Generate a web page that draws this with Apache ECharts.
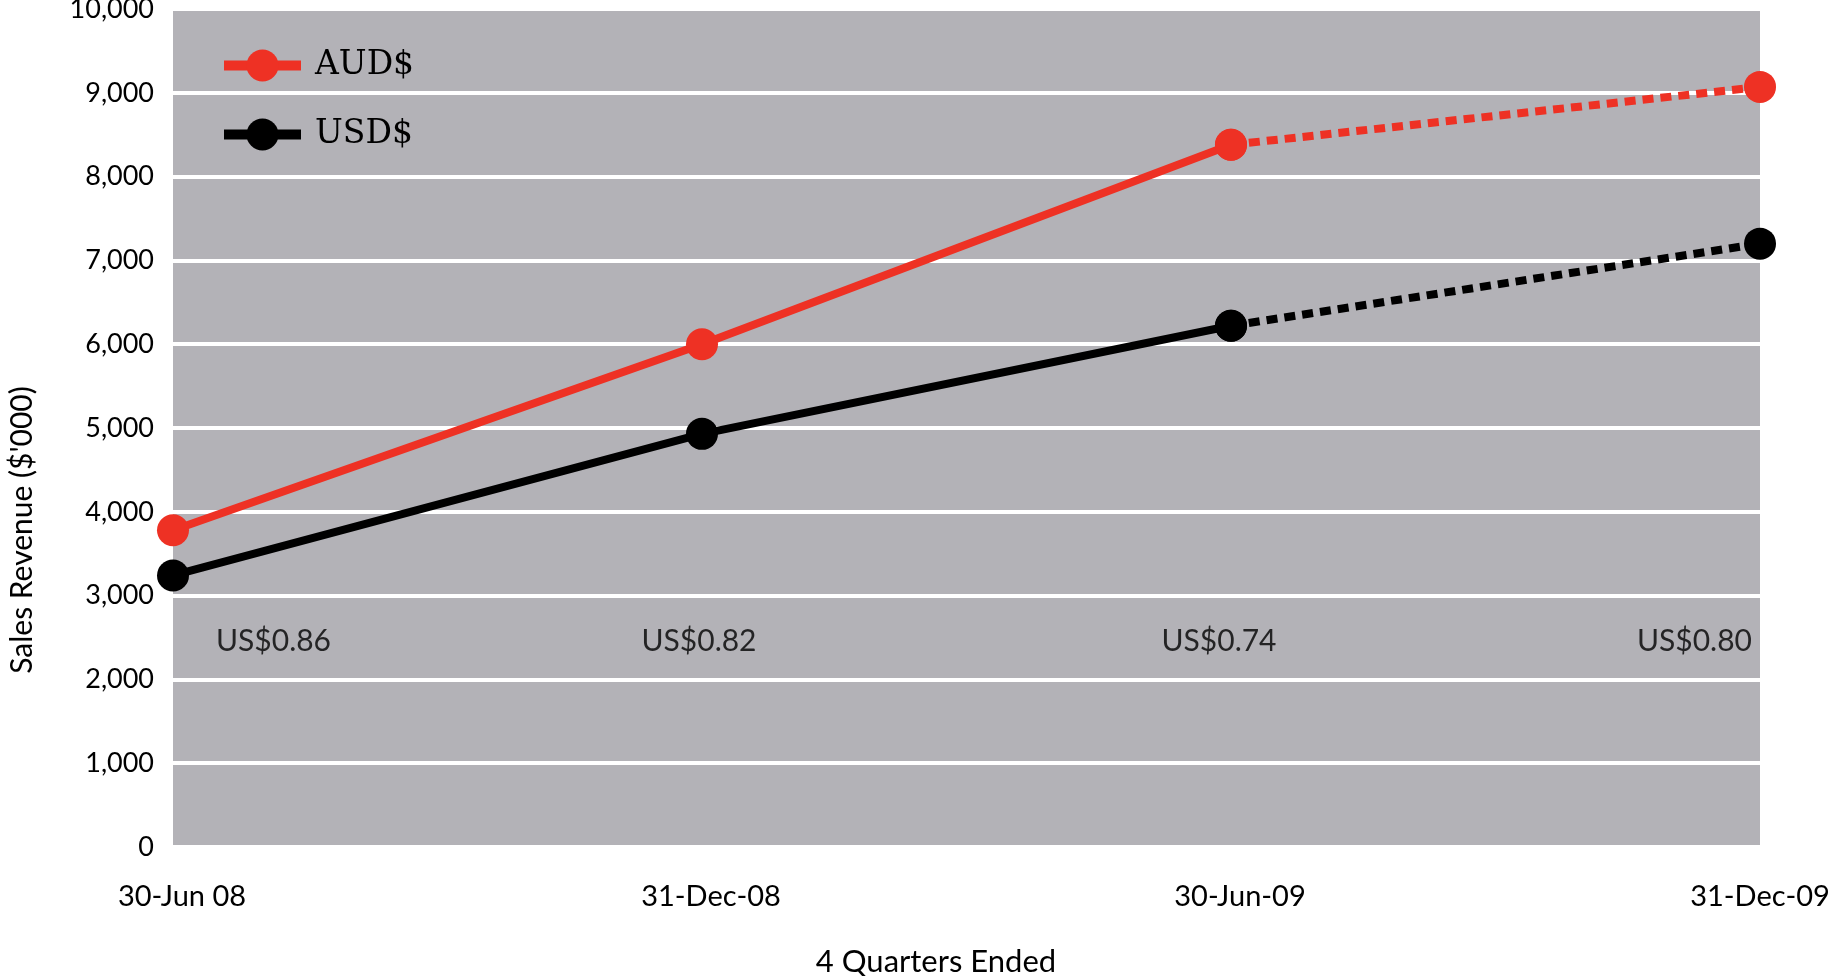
<!DOCTYPE html>
<html>
<head>
<meta charset="utf-8">
<script src="https://cdn.jsdelivr.net/npm/echarts@6/dist/echarts.min.js"></script>
<style>
  html, body { margin: 0; padding: 0; background: #ffffff; }
  #chart { width: 1830px; height: 976px; }
</style>
</head>
<body>
<div id="chart"></div>
<script>
// Rolling four-quarter sales revenue, in thousands of dollars
const periods = ['30-Jun 08', '31-Dec-08', '30-Jun-09', '31-Dec-09'];
const audRevenue = [3780, 6000, 8380, 9070];
const usdRevenue = [3240, 4930, 6220, 7200];
// Exchange rate (US$ per A$) noted under each period
const fxRates = ['US$0.86', 'US$0.82', 'US$0.74', 'US$0.80'];
const fxLabelLevel = 2460;
// The last period is a projection, drawn dashed
const projectedFrom = 2;

const RED = '#ee3124';
const BLACK = '#000000';
const LABEL_FONT = 'Lato, "Open Sans", sans-serif';

function actualPart(values) {
  return values.map((v, i) => (i <= projectedFrom ? v : null));
}
function projectedPart(values) {
  return values.map((v, i) => (i >= projectedFrom ? v : null));
}

function lineSeries(name, color, data, dashed) {
  return {
    name: name,
    type: 'line',
    data: data,
    symbol: 'circle',
    symbolSize: 32,
    showAllSymbol: true,
    connectNulls: false,
    z: dashed ? 3 : 4,
    itemStyle: { color: color },
    lineStyle: { color: color, width: 8, type: dashed ? [11, 7] : 'solid', cap: 'butt' },
    emphasis: { disabled: true },
    animation: false
  };
}

const fxAligns = ['left', 'center', 'center', 'right'];
const fxOffsets = [[43, 0], [-3, 0], [-12, 0], [-8, 0]];

const chart = echarts.init(document.getElementById('chart'));
const grid = { left: 173, right: 70, top: 9, bottom: 129 };

chart.setOption({
  backgroundColor: '#ffffff',
  animation: false,
  title: {
    text: '4 Quarters Ended',
    left: 931,
    top: 941,
    textAlign: 'center',
    textStyle: { fontFamily: LABEL_FONT, fontSize: 31, fontWeight: 'normal', color: '#000' }
  },
  legend: {
    orient: 'vertical',
    left: 214,
    top: 44,
    itemWidth: 77,
    itemHeight: 40,
    itemGap: 36,
    data: ['AUD$', 'USD$'],
    lineStyle: { width: 10 },
    textStyle: {
      fontFamily: '"DejaVu Serif", serif',
      fontSize: 33,
      color: '#000',
      padding: [0, 0, 0, 9]
    },
    selectedMode: false
  },
  graphic: [{
    type: 'text',
    x: 22,
    y: 530,
    rotation: Math.PI / 2,
    silent: true,
    style: {
      text: "Sales Revenue ($'000)",
      font: '30px ' + LABEL_FONT,
      fill: '#000',
      align: 'center',
      verticalAlign: 'middle'
    }
  }],
  grid: {
    left: grid.left,
    right: grid.right,
    top: grid.top,
    bottom: grid.bottom,
    containLabel: false,
    outerBoundsMode: 'none',
    show: true,
    backgroundColor: '#b3b2b7',
    borderWidth: 0
  },
  xAxis: {
    type: 'category',
    data: periods,
    boundaryGap: false,
    axisLine: { show: false },
    axisTick: { show: false },
    axisLabel: {
      fontFamily: LABEL_FONT,
      fontSize: 29,
      color: '#000',
      margin: 35,
      interval: 0,
      showMinLabel: true,
      showMaxLabel: true,
      formatter: (v, i) => (i < periods.length - 1 ? '{mid|' + v + '}' : '{end|' + v + '}'),
      rich: {
        mid: { fontFamily: LABEL_FONT, fontSize: 29, color: '#000', padding: [0, 0, 0, 18] },
        end: { fontFamily: LABEL_FONT, fontSize: 29, color: '#000', padding: [0, 0, 0, 0] }
      }
    },
    splitLine: { show: false }
  },
  yAxis: {
    type: 'value',
    min: 0,
    max: 10000,
    interval: 1000,
    axisLine: { show: false },
    axisTick: { show: false },
    axisLabel: {
      fontFamily: LABEL_FONT,
      fontSize: 27,
      color: '#000',
      margin: 19,
      formatter: v => v.toLocaleString('en-US')
    },
    splitLine: { show: true, lineStyle: { color: '#ffffff', width: 4 } }
  },
  series: [
    lineSeries('AUD$', RED, actualPart(audRevenue), false),
    lineSeries('AUD$', RED, projectedPart(audRevenue), true),
    lineSeries('USD$', BLACK, actualPart(usdRevenue), false),
    lineSeries('USD$', BLACK, projectedPart(usdRevenue), true),
    {
      name: 'fx',
      type: 'scatter',
      symbolSize: 0,
      silent: true,
      z: 2,
      data: fxRates.map((r, i) => ({
        value: [i, fxLabelLevel],
        label: {
          show: true,
          formatter: r,
          position: 'inside',
          align: fxAligns[i],
          offset: fxOffsets[i],
          fontFamily: LABEL_FONT,
          fontSize: 30,
          color: '#000'
        }
      })),
      animation: false
    }
  ]
});
</script>
</body>
</html>
